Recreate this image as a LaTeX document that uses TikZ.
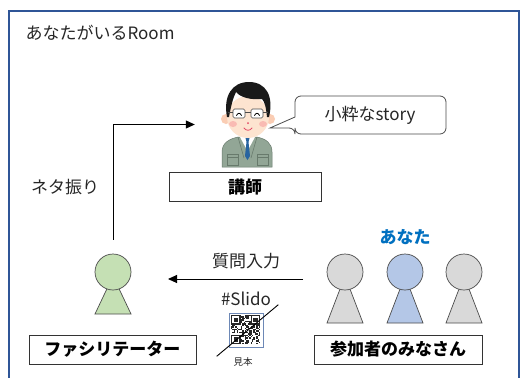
\documentclass[tikz,border=0pt]{standalone}
\usepackage{fontspec}
\setmainfont{Noto Sans CJK JP}
\usetikzlibrary{arrows.meta}

\definecolor{roomblue}{RGB}{47,85,151}
\definecolor{facilgreen}{RGB}{197,224,180}
\definecolor{crowdgray}{RGB}{217,217,217}
\definecolor{youblue}{RGB}{180,199,231}
\definecolor{youtext}{RGB}{0,112,192}
\definecolor{jacket}{RGB}{146,166,150}
\definecolor{jacketdark}{RGB}{104,122,108}
\definecolor{skin}{RGB}{253,228,208}
\definecolor{ear}{RGB}{250,205,180}
\definecolor{cheek}{RGB}{247,160,160}
\definecolor{tieblue}{RGB}{40,100,160}
\definecolor{mouth}{RGB}{225,70,100}

\tikzset{
  txt/.style={font=\fontsize{17}{20}\selectfont,text=black!85},
  pawnline/.style={draw=black!70,line width=0.7pt},
  head/.style={circle,pawnline,minimum size=36pt,inner sep=0pt},
  pics/pawn/.style 2 args={code={
    \path[pawnline,fill=#1] (0,4) -- (-18,#2) -- (18,#2) -- cycle;
    \node[head,fill=#1] (head) at (0,0) {};
  }},
  namebox/.style={draw=black!80,line width=0.9pt,fill=white,inner sep=0pt,
    minimum height=29pt,font=\fontsize{17}{20}\selectfont\bfseries},
  arrow/.style={line width=1pt,-{Triangle[length=9pt,width=8pt]}},
}

\begin{document}
\begin{tikzpicture}[x=1pt,y=-1pt]
\useasboundingbox (0,0) rectangle (523,378);
\clip (0,0) rectangle (523,378);
\fill[white] (0,0) rectangle (523,378);
\draw[roomblue,line width=1.6pt] (9,400) -- (9,11) -- (519,11) -- (519,400);
\node[txt,anchor=west] (title) at (22,33) {あなたがいるRoom};

% lecturer
\fill[jacket,draw=jacketdark,line width=0.5pt] (222,167) -- (222,152) .. controls (222,143) and (229,139) .. (238,137) -- (257,137) .. controls (266,139) and (272,143) .. (272,152) -- (272,167) -- cycle;
\fill[skin] (242,130) rectangle (253,140);
\fill[white] (240,137) -- (247.5,151) -- (255,137) -- cycle;
\fill[tieblue] (245.5,138) -- (249.5,138) -- (248.5,142) -- (246.5,142) -- cycle;
\fill[tieblue] (246.5,142) -- (248.5,142) -- (250,156) -- (247.5,160) -- (245,156) -- cycle;
\draw[jacketdark,line width=0.6pt] (238,137) -- (244,158) (257,137) -- (251,158);
\draw[jacketdark,line width=0.6pt] (227,154) rectangle (238,165) (257,154) rectangle (268,165);
\draw[jacketdark,line width=0.6pt] (227,157) -- (238,157) (257,157) -- (268,157);
\fill[ear] (226,119) circle (5pt) (270,119) circle (5pt);
\fill[skin] (248,117) ellipse [x radius=21pt, y radius=21pt];
\fill[black!90] (227,117) .. controls (223,96) and (232,82) .. (249,82) .. controls (266,82) and (274,96) .. (269,117) -- (267,117) .. controls (266,108) and (265,102) .. (262,99) .. controls (252,100) and (241,98) .. (236,92) .. controls (233,98) and (231,106) .. (229,117) -- cycle;
\draw[black!70,line width=0.7pt,fill=white,rounded corners=1.5pt] (233,109) rectangle (245,118) (251,109) rectangle (263,118);
\draw[black!70,line width=0.7pt] (245,112) -- (251,112) (228,112) -- (233,112) (263,112) -- (268,112);
\draw[black,line width=0.8pt,line cap=round] (236.5,115.5) .. controls (238,112.5) and (240,112.5) .. (241.5,115.5);
\draw[black,line width=0.8pt,line cap=round] (254.5,115.5) .. controls (256,112.5) and (258,112.5) .. (259.5,115.5);
\fill[cheek,opacity=0.6] (233,124) ellipse [x radius=4pt, y radius=3pt] (263,124) ellipse [x radius=4pt, y radius=3pt];
\fill[mouth] (248,123) circle (1pt);
\draw[mouth,line width=0.8pt,line cap=round] (244,128) .. controls (246,131) and (250,131) .. (252,128);
\node[minimum width=52pt,minimum height=85pt,inner sep=0pt] (lecturer) at (246,124.5) {};

\draw[black!70,line width=0.8pt,fill=white] (295,117) [rounded corners=6pt] -- (295,96) -- (446,96) -- (446,134) -- (295,134) -- (295,128) [sharp corners] -- (270,128) -- cycle;
\node[txt] (story) at (370,115) {小粋なstory};

\node[namebox,minimum width=152pt] (lecturerbox) at (245,187) {講師};

% facilitator and audience
\pic (facil) at (113,272) {pawn={facilgreen}{42}};
\pic (left) at (345,272) {pawn={crowdgray}{51}};
\pic (you) at (405,272) {pawn={youblue}{51}};
\pic (right) at (464,272) {pawn={crowdgray}{51}};
\node[txt,font=\fontsize{17}{20}\selectfont\bfseries,text=youtext] (youlabel) at (405,237) {あなた};
\node[namebox,minimum width=167pt] (facilbox) at (112.5,349.5) {ファシリテーター};
\node[namebox,minimum width=168pt] (crowdbox) at (398,349.5) {参加者のみなさん};

\draw[arrow] ([yshift=14pt]facilhead.north) |- ([xshift=-25pt]lecturer.west);
\node[txt] (neta) at (65,187) {ネタ振り};

\coordinate (qstart) at (303,279);
\coordinate (qend) at (168,279);
\draw[arrow] (qstart) -- (qend);
\node[txt] (question) at (246,261) {質問入力};
\node[txt] (slido) at (246,299) {\#Slido};

% qr sample
\node[draw=roomblue!70,line width=0.6pt,minimum size=34pt,inner sep=0pt,fill=white] (qr) at (246,330) {};
\pgfmathsetseed{42}
\foreach \i in {0,...,20}
  \foreach \j in {0,...,20} {
    \pgfmathrandominteger{\bit}{0}{1}
    \ifnum\bit=1 \fill[black!85] ([shift={(\i*1.4+2.3,\j*1.4+2.3)}]qr.north west) rectangle ++(1.4,1.4); \fi
  }
\foreach \a/\b in {0/0,14/0,0/14} {
  \coordinate (fp) at ([shift={(\a*1.4+2.3,\b*1.4+2.3)}]qr.north west);
  \fill[black!85] (fp) rectangle ++(9.8,9.8);
  \fill[white] ([shift={(1.4,1.4)}]fp) rectangle ++(7,7);
  \fill[black!85] ([shift={(2.8,2.8)}]fp) rectangle ++(4.2,4.2);
}
\draw[line width=0.9pt] ([shift={(-12,9)}]qr.south west) -- ([shift={(15,-8)}]qr.north east);
\node[font=\fontsize{9.5}{11}\selectfont,text=black!85] (sample) at (243,362) {見本};
\end{tikzpicture}
\end{document}
